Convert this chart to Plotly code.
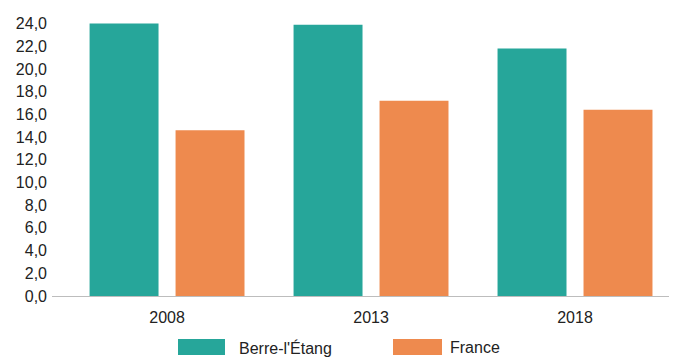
import plotly.graph_objects as go

years = ["2008", "2013", "2018"]
series_names = ["Berre-l'Étang", "France"]
berre = [24.0, 23.9, 21.8]
france = [14.6, 17.2, 16.4]
colors = ["#26a69a", "#ee8a4e"]

# the page places the figure 8px from the top-left corner
OFF = 8
W, H = 677 - OFF, 358 - OFF
L, R, T, B = 52 - OFF, 0, 23 - OFF, 62
pw, ph = W - L - R, H - T - B

fig = go.Figure()
for name, vals, col in zip(series_names, [berre, france], colors):
    fig.add_trace(go.Bar(x=years, y=vals, name=name, marker=dict(color=col, line=dict(width=0)),
                         showlegend=False, hoverinfo="x+y+name"))

font_fam = "Liberation Sans, Arial, sans-serif"
fig.update_layout(
    width=W, height=H,
    margin=dict(l=L, r=R, t=T, b=B),
    paper_bgcolor="white", plot_bgcolor="white",
    barmode="group", bargap=0.157, bargroupgap=0.198,
    separators=", ",
    font=dict(family=font_fam, size=16, color="#222222"),
    xaxis=dict(range=[-0.564, 2.5], showline=True, linecolor="#bdbdbd", linewidth=1,
               showgrid=False, ticks="", zeroline=False, ticklabelstandoff=7,
               tickfont=dict(size=16, color="#222222")),
    yaxis=dict(range=[0, 24.05], dtick=2, tick0=0, tickformat=".1f", showgrid=False,
               zeroline=False, showline=False, ticks="", ticklabelstandoff=4,
               tickfont=dict(size=16, color="#222222")),
)

# custom legend (swatches + labels), positioned in page pixels converted to paper coords
def px_x(px):
    return (px - OFF - L) / pw

def px_y(py):
    return (H - B - (py - OFF)) / ph

legend_items = [(178, 225, 237), (393, 442, 448)]
for (x0, x1, tx), name, col in zip(legend_items, series_names, colors):
    fig.add_shape(type="rect", xref="paper", yref="paper",
                  x0=px_x(x0), x1=px_x(x1), y0=px_y(355), y1=px_y(339),
                  fillcolor=col, line=dict(width=0))
    fig.add_annotation(xref="paper", yref="paper", x=px_x(tx), y=px_y(347.5),
                       text=name, showarrow=False, xanchor="left", yanchor="middle",
                       font=dict(family=font_fam, size=16, color="#222222"))

fig.write_html("out.html")
